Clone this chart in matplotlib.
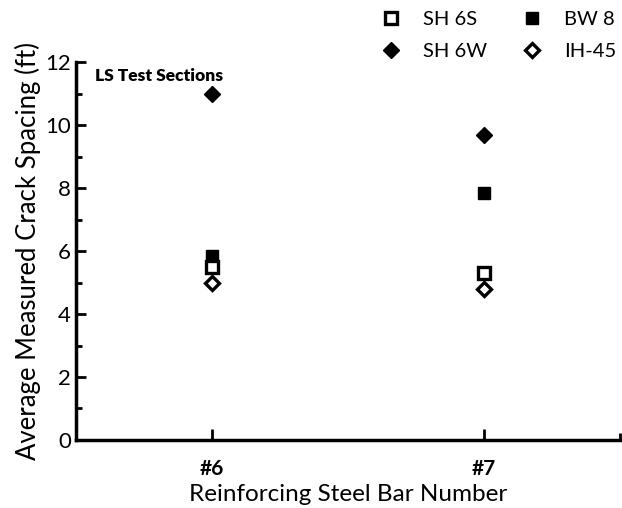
import numpy as np
import matplotlib
matplotlib.use("Agg")
import matplotlib.pyplot as plt

# bar sizes on the x axis
bar_labels = ["#6", "#7"]

# average measured crack spacing (ft) per test section
sh6s = [5.5, 5.3]
bw8 = [5.85, 7.85]
sh6w = [11.0, 9.7]
ih45 = [5.0, 4.8]

plt.rcParams["font.family"] = ["Lato", "DejaVu Sans"]

fig = plt.figure(figsize=(6.22, 5.08), dpi=100)
ax = fig.add_axes([0.122, 0.134, 0.875, 0.743])

x = np.arange(1, len(bar_labels) + 1)

h2, = ax.plot(x, bw8, ls="none", marker="s", ms=9, mfc="black", mec="black", label="BW 8")
h1, = ax.plot(x, sh6s, ls="none", marker="s", ms=8, mfc="white", mec="black", mew=2.4, label="SH 6S")
h3, = ax.plot(x, sh6w, ls="none", marker="D", ms=8, mfc="black", mec="black", label="SH 6W")
h4, = ax.plot(x, ih45, ls="none", marker="D", ms=7, mfc="white", mec="black", mew=2.4, label="IH-45")

ax.set_xlim(0.5, 2.5)
ax.set_ylim(0, 12)
ax.set_xticks(x)
ax.set_xticklabels(bar_labels, fontsize=15, fontweight="bold")
ax.set_xticks([2.5], minor=True)
ax.set_yticks(np.arange(0, 13, 2))
ax.set_yticks(np.arange(1, 12, 2), minor=True)
ax.tick_params(axis="y", labelsize=16, direction="in", length=7, width=2)
ax.tick_params(axis="y", which="minor", direction="in", length=4, width=2)
ax.tick_params(axis="x", direction="in", length=8, width=2, pad=14)
ax.tick_params(axis="x", which="minor", direction="in", length=5, width=2)

for s in ["top", "right"]:
    ax.spines[s].set_visible(False)
for s in ["left", "bottom"]:
    ax.spines[s].set_linewidth(2.5)

ax.set_ylabel("Average Measured Crack Spacing (ft)", fontsize=18.5, labelpad=3)
ax.set_xlabel("Reinforcing Steel Bar Number", fontsize=17.5, labelpad=3)

ax.text(0.035, 0.985, "LS Test Sections", transform=ax.transAxes, fontsize=12.5,
        fontweight="heavy", va="top", ha="left")

fig.legend(handles=[h1, h3, h2, h4], ncol=2, loc="upper right",
           bbox_to_anchor=(1.02, 1.015), frameon=False, fontsize=14.5,
           handletextpad=0.6, columnspacing=1.2, labelspacing=0.75)

fig.savefig("out.png", dpi=100)
